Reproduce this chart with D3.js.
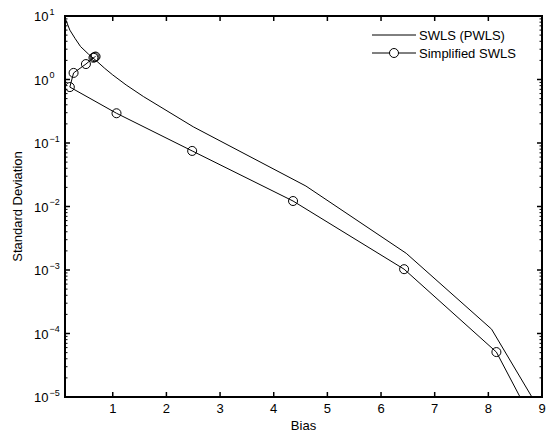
<!DOCTYPE html>
<html><head><meta charset="utf-8">
<script src="https://cdn.jsdelivr.net/npm/d3@7"></script>
<style>body{margin:0;background:#fff}svg{display:block}text{font-family:"Liberation Sans",Arial,sans-serif;fill:#000}</style>
</head><body>
<svg id="c" width="547" height="437"></svg>
<script>
const swlsX = [0.12, 0.2, 0.3, 0.4, 0.55, 0.7, 0.85, 1.0, 1.25, 1.57, 2.5, 4.6, 6.47, 8.06, 9.0];
const swlsY = [8.9, 6.0, 4.4, 3.3, 2.5, 1.95, 1.5, 1.18, 0.82, 0.54, 0.18, 0.021, 1.83e-3, 1.17e-4, 5.4e-6];
const simpX = [0.68, 0.66, 0.64, 0.50, 0.27, 0.2, 1.07, 2.48, 4.36, 6.43, 8.15, 9.0];
const simpY = [2.3, 2.25, 2.2, 1.75, 1.27, 0.76, 0.294, 0.075, 0.0122, 1.03e-3, 5.1e-5, 2.2e-6];
const xTicks = [1, 2, 3, 4, 5, 6, 7, 8, 9];
const yExps = [1, 0, -1, -2, -3, -4, -5];
const seriesNames = ["SWLS (PWLS)", "Simplified SWLS"];

const L = 65, R = 542, T = 16, B = 397;
const FS = 13;
const svg = d3.select("#c");
const x = d3.scaleLinear().domain([0.11, 9]).range([L, R]);
const y = d3.scaleLog().domain([1e-5, 10]).range([B, T]);

svg.append("defs").append("clipPath").attr("id", "clip")
  .append("rect").attr("x", L).attr("y", T).attr("width", R - L).attr("height", B - T);

const g = svg.append("g").attr("clip-path", "url(#clip)");
const line = d3.line().x(d => x(d[0])).y(d => y(d[1]));
const swls = swlsX.map((v, i) => [v, swlsY[i]]);
const simp = simpX.map((v, i) => [v, simpY[i]]);
g.append("path").attr("d", line(swls)).attr("fill", "none").attr("stroke", "#000").attr("stroke-width", 1);
g.append("path").attr("d", line(simp)).attr("fill", "none").attr("stroke", "#000").attr("stroke-width", 1);
g.selectAll("circle.s").data(simp).enter().append("circle")
  .attr("cx", d => x(d[0])).attr("cy", d => y(d[1])).attr("r", 4.5)
  .attr("fill", "none").attr("stroke", "#000").attr("stroke-width", 1);

// ticks
const tk = svg.append("g").attr("stroke", "#000").attr("stroke-width", 1.5);
xTicks.forEach(t => {
  const px = x(t);
  tk.append("line").attr("x1", px).attr("x2", px).attr("y1", B).attr("y2", B - 5);
  tk.append("line").attr("x1", px).attr("x2", px).attr("y1", T).attr("y2", T + 5);
});
yExps.forEach(e => {
  const py = y(Math.pow(10, e));
  tk.append("line").attr("x1", L).attr("x2", L + 5).attr("y1", py).attr("y2", py);
  tk.append("line").attr("x1", R).attr("x2", R - 5).attr("y1", py).attr("y2", py);
  if (e > -5) {
    for (let m = 2; m <= 9; m++) {
      const pm = y(m * Math.pow(10, e - 1));
      tk.append("line").attr("x1", L).attr("x2", L + 2.5).attr("y1", pm).attr("y2", pm).attr("stroke-width", 1);
      tk.append("line").attr("x1", R).attr("x2", R - 2.5).attr("y1", pm).attr("y2", pm).attr("stroke-width", 1);
    }
  }
});
svg.append("rect").attr("x", L).attr("y", T).attr("width", R - L).attr("height", B - T)
  .attr("fill", "none").attr("stroke", "#000").attr("stroke-width", 2);

// x labels
xTicks.forEach(t => {
  svg.append("text").attr("x", x(t)).attr("y", B + 16).attr("text-anchor", "middle")
    .attr("font-size", FS).text(t);
});
// y labels: base "10" right-aligned at a fixed x, exponent after it
yExps.forEach(e => {
  const py = y(Math.pow(10, e));
  svg.append("text").attr("x", 48.5).attr("y", py + 5).attr("text-anchor", "end").attr("font-size", FS).text("10");
  svg.append("text").attr("x", 49.5).attr("y", py - 1.5).attr("text-anchor", "start").attr("font-size", 9)
    .text(e < 0 ? "\u2212" + (-e) : e);
});
svg.append("text").attr("x", (L + R) / 2).attr("y", 430).attr("text-anchor", "middle").attr("font-size", FS).text("Bias");
svg.append("text").attr("transform", `translate(22,${(T + B) / 2}) rotate(-90)`).attr("text-anchor", "middle")
  .attr("font-size", FS).text("Standard Deviation");

// legend
const lg = svg.append("g");
[0, 1].forEach(i => {
  const ly = 35 + i * 18;
  lg.append("line").attr("x1", 372).attr("x2", 416).attr("y1", ly).attr("y2", ly).attr("stroke", "#000");
  if (i === 1) lg.append("circle").attr("cx", 394).attr("cy", ly).attr("r", 4.5).attr("fill", "#fff").attr("stroke", "#000");
  lg.append("text").attr("x", 419).attr("y", ly + 4.5).attr("font-size", FS).text(seriesNames[i]);
});
</script>
</body></html>
